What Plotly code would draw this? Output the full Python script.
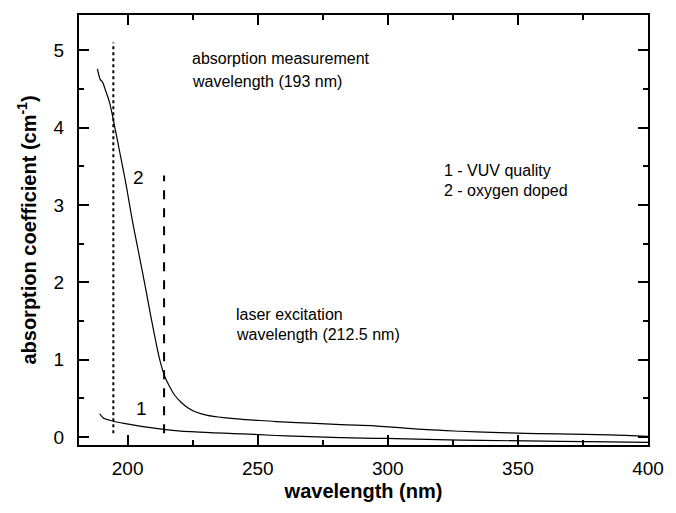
import plotly.graph_objects as go

# Curve 2 - oxygen doped
x2 = [188.4, 189.5, 190.3, 191.5, 193.0, 194.5, 196.8, 199.3, 201.8, 204.3, 206.8, 209.2, 212.4,
      214.3, 216.0, 218.1, 220.5, 223.1, 226.5, 230.7, 236.0, 242.0, 250.0, 257.0, 270.0, 282.0,
      295.0, 303.0, 315.0, 328.0, 340.0, 353.0, 365.0, 385.0, 400.0]
y2 = [4.76, 4.62, 4.59, 4.48, 4.33, 4.10, 3.71, 3.28, 2.80, 2.37, 1.94, 1.51, 0.99,
      0.78, 0.66, 0.54, 0.45, 0.38, 0.32, 0.28, 0.255, 0.235, 0.215, 0.20, 0.18, 0.16,
      0.145, 0.125, 0.095, 0.075, 0.06, 0.048, 0.04, 0.028, 0.01]

# Curve 1 - VUV quality
x1 = [189.3, 190.5, 193.9, 198.0, 203.0, 208.0, 213.8, 219.4, 231.8, 244.4, 257.0, 270.0,
      295.0, 303.0, 328.0, 353.0, 366.0, 385.0, 400.0]
y1 = [0.30, 0.25, 0.21, 0.18, 0.15, 0.125, 0.10, 0.08, 0.056, 0.04, 0.02, 0.004,
      -0.017, -0.02, -0.04, -0.05, -0.055, -0.062, -0.07]

# Marker lines
measure_x = [194.5, 194.5]
measure_y = [0.05, 5.1]
laser_x = [214.0, 214.0]
laser_y = [0.05, 3.38]

x_ticks = [200, 250, 300, 350, 400]
y_ticks = [0, 1, 2, 3, 4, 5]

fig = go.Figure()
fig.add_trace(go.Scatter(x=x2, y=y2, mode="lines", line=dict(color="black", width=1.2),
                         line_shape="spline", showlegend=False))
fig.add_trace(go.Scatter(x=x1, y=y1, mode="lines", line=dict(color="black", width=1.2),
                         line_shape="spline", showlegend=False))
fig.add_trace(go.Scatter(x=measure_x, y=measure_y, mode="lines",
                         line=dict(color="black", width=2, dash="dot"), showlegend=False))
fig.add_trace(go.Scatter(x=laser_x, y=laser_y, mode="lines",
                         line=dict(color="black", width=2, dash="dash"), showlegend=False))

font = "Liberation Sans, Arial, sans-serif"
ann = [
    dict(x=223.9, y=4.89, text="absorption measurement", size=16),
    dict(x=223.9, y=4.59, text="wavelength (193 nm)", size=16),
    dict(x=240.8, y=1.59, text="laser excitation", size=16),
    dict(x=240.8, y=1.33, text="wavelength (212.5 nm)", size=16),
    dict(x=321, y=3.45, text="1 - VUV quality", size=16),
    dict(x=321, y=3.19, text="2 - oxygen doped", size=16),
    dict(x=201.3, y=3.36, text="2", size=19),
    dict(x=202.5, y=0.375, text="1", size=19),
]
for a in ann:
    fig.add_annotation(x=a["x"], y=a["y"], text=a["text"], showarrow=False,
                       xanchor="left", yanchor="middle",
                       font=dict(family=font, size=a["size"], color="black"))

axis_common = dict(showgrid=False, zeroline=False, showline=True, linecolor="black",
                   linewidth=2, mirror="allticks", ticks="inside", ticklen=10,
                   tickwidth=1.5, tickcolor="black",
                   tickfont=dict(family=font, size=19, color="black"))

fig.update_xaxes(range=[181.3, 400], tickvals=x_ticks,
                 minor=dict(dtick=25, tick0=175, ticks="inside", ticklen=5, tickwidth=1.5,
                            tickcolor="black"),
                 title=dict(text="<b>wavelength (nm)</b>", font=dict(family=font, size=20, color="black"),
                            standoff=6),
                 ticklabelstandoff=5,
                 **axis_common)
fig.update_yaxes(range=[-0.103, 5.455], tickvals=y_ticks,
                 minor=dict(dtick=0.5, tick0=0, ticks="inside", ticklen=5, tickwidth=1.5,
                            tickcolor="black"),
                 title=dict(text="<b>absorption coefficient (cm<sup>-1</sup>)</b>",
                            font=dict(family=font, size=20, color="black"), standoff=12),
                 ticklabelstandoff=9,
                 **axis_common)

fig.update_layout(width=676, height=513, margin=dict(l=79, r=17, t=15, b=68),
                  plot_bgcolor="white", paper_bgcolor="white", showlegend=False)

fig.write_html("out.html")
